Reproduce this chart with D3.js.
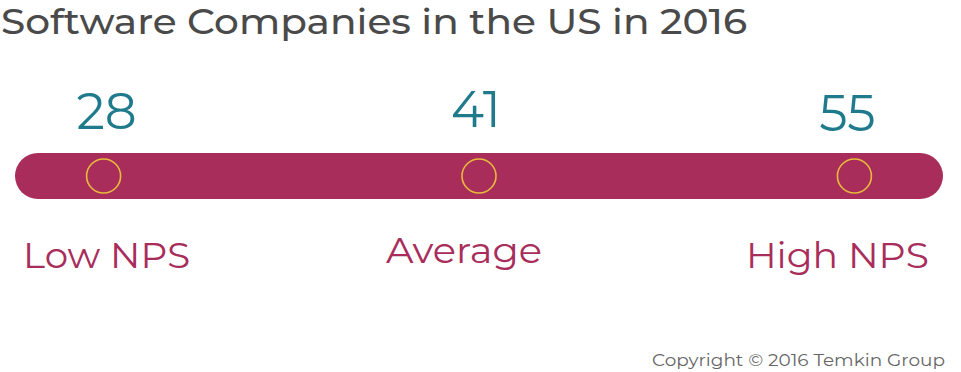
<!DOCTYPE html>
<html>
<head>
<meta charset="utf-8">
<script src="https://cdn.jsdelivr.net/npm/d3@7"></script>
<style>
  html, body { margin: 0; padding: 0; background: #fff; }
  svg text { font-family: "Montserrat", "DejaVu Sans", "Noto Sans", sans-serif; }
</style>
</head>
<body>
<svg id="chart" width="961" height="372"></svg>
<script>
const title = "Software Companies in the US in 2016";
const categories = ["Low NPS", "Average", "High NPS"];
const values = [28, 41, 55];
const copyright = "Copyright \u00A9 2016 Temkin Group";

const W = 961, H = 372;
const svg = d3.select("#chart");

const x = d3.scalePoint().domain(categories).range([15, 943]).padding(0.236);
const barY = 153, barH = 46;

// title
svg.append("text")
  .attr("x", 1).attr("y", 34)
  .attr("font-size", 35)
  .attr("font-weight", 500)
  .attr("fill", "#4a4a4a")
  .attr("textLength", 746).attr("lengthAdjust", "spacingAndGlyphs")
  .text(title);

// bar
svg.append("rect")
  .attr("x", x.range()[0]).attr("y", barY)
  .attr("width", x.range()[1] - x.range()[0]).attr("height", barH)
  .attr("rx", barH / 2).attr("ry", barH / 2)
  .attr("fill", "#a82d5b");

// circles
svg.selectAll("circle.mark").data(categories).join("circle")
  .attr("class", "mark")
  .attr("cx", d => x(d)).attr("cy", barY + barH / 2)
  .attr("r", 17)
  .attr("fill", "none")
  .attr("stroke", "#e8b93c").attr("stroke-width", 1.6);

// values
const valDx = [3, -3, -7];
const valY = [129, 127, 131];
svg.selectAll("text.val").data(values).join("text")
  .attr("class", "val")
  .attr("x", (d, i) => x(categories[i]) + valDx[i])
  .attr("y", (d, i) => valY[i])
  .attr("text-anchor", "middle")
  .attr("font-size", 50)
  .attr("fill", "#1f7a8c")
  .text(d => d);

// labels
const labDx = [3, -15, -17];
const labY = [268, 263, 268];
const labW = [167, 156, 183];
svg.selectAll("text.lab").data(categories).join("text")
  .attr("class", "lab")
  .attr("x", (d, i) => x(d) + labDx[i] - labW[i] / 2)
  .attr("y", (d, i) => labY[i])
  .attr("font-size", 36)
  .attr("fill", "#a82d5b")
  .attr("textLength", (d, i) => labW[i]).attr("lengthAdjust", "spacingAndGlyphs")
  .text(d => d);

// copyright
svg.append("text")
  .attr("x", 652).attr("y", 366)
  .attr("font-size", 17.5)
  .attr("fill", "#666")
  .attr("textLength", 293).attr("lengthAdjust", "spacingAndGlyphs")
  .text(copyright);
</script>
</body>
</html>
